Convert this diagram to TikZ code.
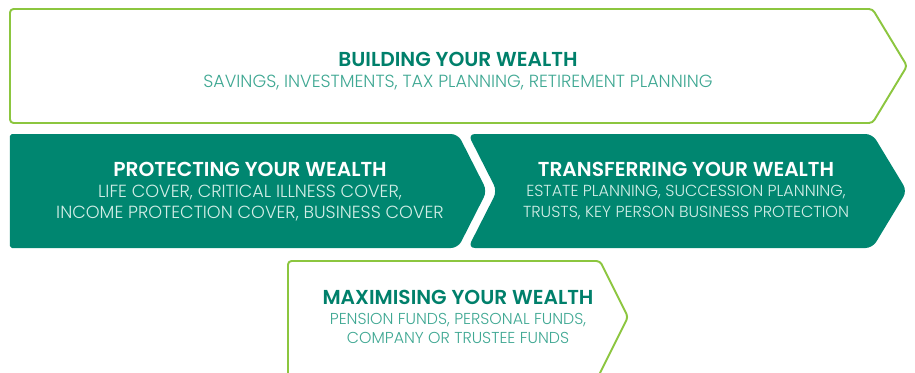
\documentclass[tikz,border=0pt]{standalone}
\usepackage{fontspec}
\setmainfont{Poppins}
\newfontfamily\thinfont{Poppins Light}
\usepackage{xcolor}

\definecolor{wealthteal}{HTML}{008670}
\definecolor{wealthlime}{HTML}{8CC63F}
\definecolor{headteal}{HTML}{00806B}
\definecolor{subteal}{HTML}{3FA893}
\definecolor{submint}{HTML}{D2EEE7}

\newcommand{\headline}[1]{{\fontsize{11.5}{12}\selectfont\bfseries #1}}

\begin{document}
\begin{tikzpicture}[line join=round,
    outline/.style={draw=wealthlime, line width=1.1pt, fill=white, rounded corners=2pt},
    panel/.style={fill=wealthteal, rounded corners=4pt},
    label/.style={align=center, inner sep=0pt, font=\thinfont\fontsize{10}{12}\selectfont}]

  \useasboundingbox (0,0) rectangle (18.3,7.44);

  % white arrow on top
  \draw[outline] (0.2,4.98) -- (0.2,7.26) -- (17.45,7.26) -- (18.14,6.12)
                 -- (17.45,4.98) -- cycle;

  % the two filled chevrons (left one nearly square on its left side)
  \fill[panel] (9.74,3.62) -- (9.16,2.48) [rounded corners=1pt] -- (0.2,2.48)
               -- (0.2,4.76) [rounded corners=4pt] -- (9.16,4.76) -- cycle;
  \fill[panel] (9.36,2.48) -- (9.94,3.62) -- (9.36,4.76) -- (17.45,4.76)
               -- (18.14,3.62) -- (17.45,2.48) -- cycle;

  % lower arrow, runs off the bottom edge
  \draw[outline] (5.76,-0.2) -- (5.76,2.22) -- (12.0,2.22) -- (12.56,1.1)
                 -- (11.91,-0.2);

  \node[label, text=subteal] (build) at (9.16,6.02)
    {{\color{headteal}\headline{BUILDING YOUR WEALTH}}\\
     SAVINGS, INVESTMENTS, TAX PLANNING, RETIREMENT PLANNING};

  \node[label, text=submint] (protect) at (5.0,3.6)
    {{\color{white}\headline{PROTECTING YOUR WEALTH}}\\
     LIFE COVER, CRITICAL ILLNESS COVER,\\
     INCOME PROTECTION COVER, BUSINESS COVER};

  \node[label, text=submint, font=\thinfont\fontsize{9.1}{11.5}\selectfont] (transfer) at (13.72,3.62)
    {{\color{white}\headline{TRANSFERRING YOUR WEALTH}}\\
     ESTATE PLANNING, SUCCESSION PLANNING,\\
     TRUSTS, KEY PERSON BUSINESS PROTECTION};

  \node[label, text=subteal, font=\thinfont\fontsize{9}{11}\selectfont] (maximise) at (9.16,1.1)
    {{\color{headteal}\headline{MAXIMISING YOUR WEALTH}}\\
     PENSION FUNDS, PERSONAL FUNDS,\\
     COMPANY OR TRUSTEE FUNDS};

\end{tikzpicture}
\end{document}
